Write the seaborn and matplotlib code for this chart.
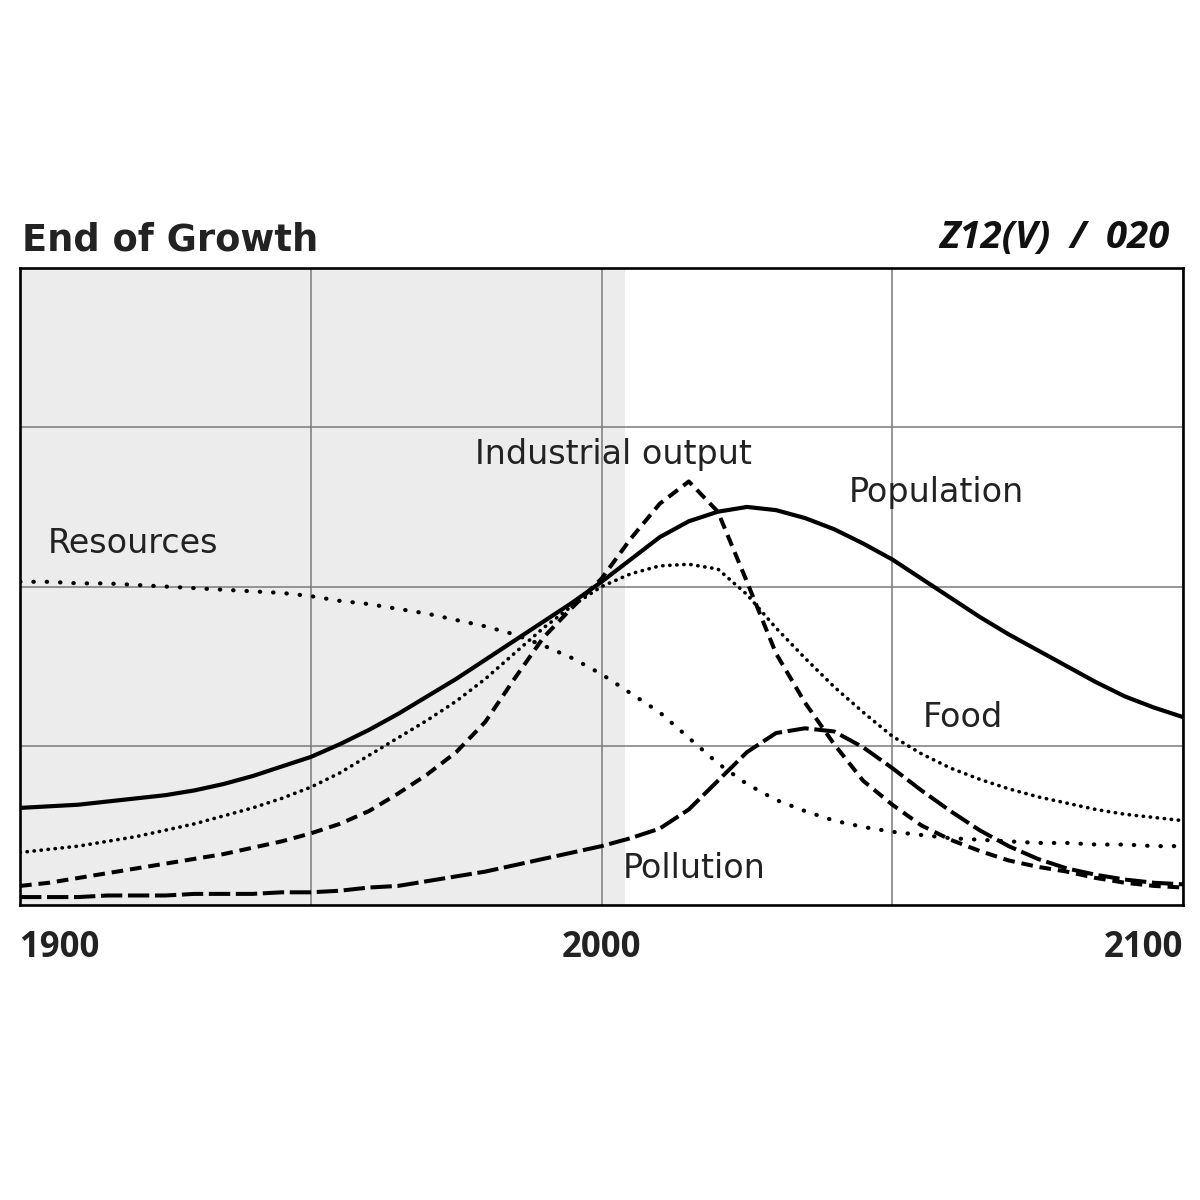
import numpy as np
import pandas as pd
import matplotlib
matplotlib.use("Agg")
import matplotlib.pyplot as plt
import seaborn as sns

# data (index scale 0..4)
years = list(range(1900, 2101, 5))
population = [0.61, 0.62, 0.63, 0.65, 0.67, 0.69, 0.72, 0.76, 0.81, 0.87,
              0.93, 1.01, 1.10, 1.20, 1.31, 1.42, 1.54, 1.66, 1.78, 1.90,
              2.03, 2.17, 2.31, 2.41, 2.47, 2.50, 2.48, 2.43, 2.36, 2.27,
              2.17, 2.05, 1.93, 1.81, 1.70, 1.60, 1.50, 1.40, 1.31, 1.24, 1.18]
food = [0.33, 0.35, 0.37, 0.40, 0.43, 0.47, 0.51, 0.56, 0.61, 0.67,
        0.74, 0.83, 0.94, 1.05, 1.16, 1.28, 1.42, 1.58, 1.74, 1.88,
        2.00, 2.08, 2.13, 2.14, 2.11, 1.95, 1.74, 1.55, 1.37, 1.21,
        1.06, 0.95, 0.86, 0.79, 0.73, 0.68, 0.64, 0.60, 0.57, 0.55, 0.53]
industrial = [0.12, 0.14, 0.17, 0.20, 0.23, 0.26, 0.29, 0.32, 0.36, 0.40,
              0.45, 0.51, 0.59, 0.70, 0.82, 0.96, 1.15, 1.42, 1.68, 1.87,
              2.05, 2.30, 2.52, 2.66, 2.47, 2.03, 1.58, 1.27, 1.01, 0.78,
              0.63, 0.50, 0.41, 0.34, 0.28, 0.24, 0.21, 0.17, 0.14, 0.12, 0.11]
pollution = [0.05, 0.05, 0.05, 0.06, 0.06, 0.06, 0.07, 0.07, 0.07, 0.08,
             0.08, 0.09, 0.11, 0.12, 0.15, 0.18, 0.21, 0.25, 0.29, 0.33,
             0.37, 0.42, 0.48, 0.60, 0.78, 0.96, 1.08, 1.11, 1.09, 0.99,
             0.86, 0.72, 0.59, 0.47, 0.37, 0.29, 0.23, 0.19, 0.16, 0.14, 0.13]
resources = [2.03, 2.03, 2.02, 2.02, 2.01, 2.00, 1.99, 1.98, 1.97, 1.96,
             1.94, 1.91, 1.89, 1.86, 1.83, 1.79, 1.75, 1.70, 1.63, 1.55,
             1.45, 1.33, 1.21, 1.05, 0.89, 0.76, 0.66, 0.59, 0.53, 0.49,
             0.46, 0.44, 0.42, 0.41, 0.40, 0.39, 0.39, 0.38, 0.38, 0.37, 0.37]

df = pd.DataFrame({"year": years, "Population": population, "Food": food,
                   "Industrial output": industrial, "Pollution": pollution,
                   "Resources": resources})

sns.set_style("white")
plt.rcParams["font.family"] = ["DejaVu Sans"]

fig = plt.figure(figsize=(12, 12), dpi=100)
ax = fig.add_axes([0.0167, 0.2458, 0.9692, 0.5308])

# shaded "history" part
ax.axvspan(1900, 2004, color="#ececec", zorder=0, lw=0)

styles = {
    "Resources": dict(linestyle=(0, (0.1, 3.1)), linewidth=3.0, dash_capstyle="round"),
    "Food": dict(linestyle=(0, (0.1, 1.85)), linewidth=2.6, dash_capstyle="round"),
    "Industrial output": dict(linestyle=(0, (2.9, 1.7)), linewidth=2.9),
    "Pollution": dict(linestyle=(0, (5.3, 1.4)), linewidth=2.9),
    "Population": dict(linestyle="-", linewidth=3.0),
}
for name, st in styles.items():
    sns.lineplot(data=df, x="year", y=name, color="black", ax=ax, zorder=3,
                 solid_joinstyle="round", dash_joinstyle="round", **st)

ax.set_xlim(1900, 2100)
ax.set_ylim(0, 4)
ax.set_xlabel("")
ax.set_ylabel("")
ax.set_xticks([1900, 1950, 2000, 2050, 2100])
ax.set_xticklabels(["1900", "", "2000", "", "2100"], fontsize=25,
                   fontweight="bold", family="Open Sans", color="#222222")
labs = ax.get_xticklabels()
labs[0].set_ha("left")
labs[-1].set_ha("right")
ax.set_yticks([1, 2, 3])
ax.set_yticklabels([])
ax.tick_params(axis="x", direction="out", length=11, width=1.8, color="black", pad=7)
ax.tick_params(axis="y", length=0)
ax.grid(True, color="#7a7a7a", linewidth=1.1, zorder=1)
ax.set_axisbelow(True)
for s in ax.spines.values():
    s.set_color("black")
    s.set_linewidth(1.9)

lab = dict(fontsize=24, color="#222222", zorder=4)
ax.text(2002.1, 2.83, "Industrial output", ha="center", va="center", **lab)
ax.text(2057.5, 2.59, "Population", ha="center", va="center", **lab)
ax.text(1904.8, 2.27, "Resources", ha="left", va="center", **lab)
ax.text(2055.3, 1.18, "Food", ha="left", va="center", **lab)
ax.text(2003.7, 0.23, "Pollution", ha="left", va="center", **lab)

fig.text(0.018, 0.800, "End of Growth", fontsize=26.5, fontweight="bold",
         color="#222222", ha="left", va="center")
fig.text(0.975, 0.802, "Z12(V)  /  020", fontsize=27.5, fontweight="bold",
         fontstyle="italic", family="Open Sans", color="#111111",
         ha="right", va="center")

fig.savefig("out.png", dpi=100, facecolor="white")
